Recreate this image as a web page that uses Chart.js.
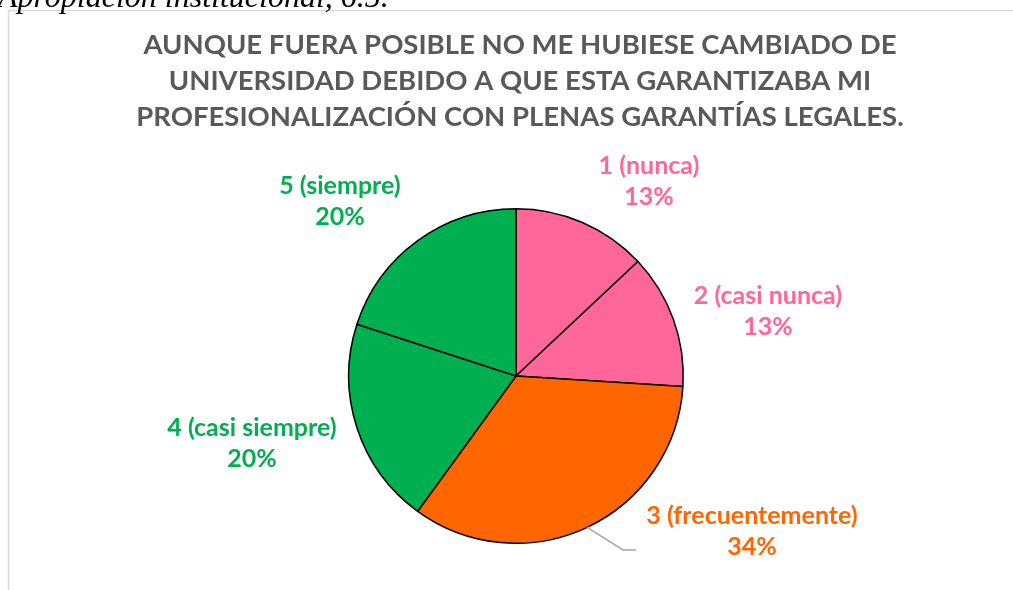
<!DOCTYPE html>
<html>
<head>
<meta charset="utf-8">
<script src="https://cdn.jsdelivr.net/npm/chart.js@4"></script>
<style>
  html, body { margin: 0; padding: 0; background: #fff; overflow: hidden; }
  #wrap { position: relative; width: 1013px; height: 590px; }
</style>
</head>
<body>
<div id="wrap"><canvas id="pieCanvas" width="1013" height="590"></canvas></div>
<script>
// chart data
var categories = ['1 (nunca)', '2 (casi nunca)', '3 (frecuentemente)', '4 (casi siempre)', '5 (siempre)'];
var percentages = [13, 13, 34, 20, 20];
var sliceColors = ['#FF6699', '#FF6699', '#FF6600', '#00B050', '#00B050'];
var titleLines = [
  'AUNQUE FUERA POSIBLE NO ME HUBIESE CAMBIADO DE',
  'UNIVERSIDAD DEBIDO A QUE ESTA GARANTIZABA MI',
  'PROFESIONALIZACIÓN CON PLENAS GARANTÍAS LEGALES.'
];
var captionText = 'Apropiación institucional, 6.5.';

// where each label sits, relative to the pie centre (px)
var labelOffsets = [[133, -195], [252, -65], [236, 155], [-264, 67], [-176, -175]];

document.addEventListener("DOMContentLoaded", function() {
  var canvas = document.getElementById('pieCanvas');

  // frame, caption, title and outside labels
  var decorPlugin = {
    id: 'decor',
    beforeDraw: function(chart) {
      var ctx = chart.ctx;
      ctx.save();
      ctx.fillStyle = '#fff';
      ctx.fillRect(0, 0, chart.width, chart.height);
      ctx.strokeStyle = '#D9D9D9';
      ctx.lineWidth = 1.5;
      ctx.strokeRect(8.5, 10.5, 1100, 700);

      ctx.fillStyle = '#000';
      ctx.font = 'italic 32px "Liberation Serif"';
      ctx.textAlign = 'left';
      ctx.textBaseline = 'alphabetic';
      ctx.fillText(captionText, -2, 7);

      ctx.fillStyle = '#595959';
      ctx.font = 'bold 27.5px Lato';
      ctx.textAlign = 'center';
      ctx.textBaseline = 'middle';
      titleLines.forEach(function(line, i) {
        ctx.fillText(line, 520, 45 + i * 36);
      });
      ctx.restore();
    },
    afterDatasetsDraw: function(chart) {
      var ctx = chart.ctx;
      var arc0 = chart.getDatasetMeta(0).data[0];
      var cx = arc0.x, cy = arc0.y;
      ctx.save();
      // leader line for the big slice
      var meta = chart.getDatasetMeta(0).data[2];
      var mid = (meta.startAngle + meta.endAngle) / 2;
      var r = meta.outerRadius;
      ctx.strokeStyle = '#A6A6A6';
      ctx.lineWidth = 1.5;
      ctx.beginPath();
      ctx.moveTo(cx + Math.cos(mid) * r, cy + Math.sin(mid) * r);
      ctx.lineTo(cx + 107, cy + 174);
      ctx.lineTo(cx + 120, cy + 174);
      ctx.stroke();

      ctx.font = 'bold 25px Lato';
      ctx.textAlign = 'center';
      ctx.textBaseline = 'middle';
      categories.forEach(function(name, i) {
        var off = labelOffsets[i];
        ctx.fillStyle = sliceColors[i];
        ctx.fillText(name, cx + off[0], cy + off[1] - 15);
        ctx.fillText(percentages[i] + '%', cx + off[0], cy + off[1] + 16);
      });
      ctx.restore();
    }
  };

  new Chart(canvas.getContext('2d'), {
    type: 'pie',
    data: {
      labels: categories,
      datasets: [{
        data: percentages,
        backgroundColor: sliceColors,
        borderColor: '#000',
        borderWidth: 1.5
      }]
    },
    options: {
      responsive: false,
      animation: false,
      layout: { padding: { left: 348, right: 329, top: 208, bottom: 46 } },
      plugins: {
        legend: { display: false },
        title: { display: false },
        tooltip: { enabled: false }
      }
    },
    plugins: [decorPlugin]
  });
});
</script>
</body>
</html>
